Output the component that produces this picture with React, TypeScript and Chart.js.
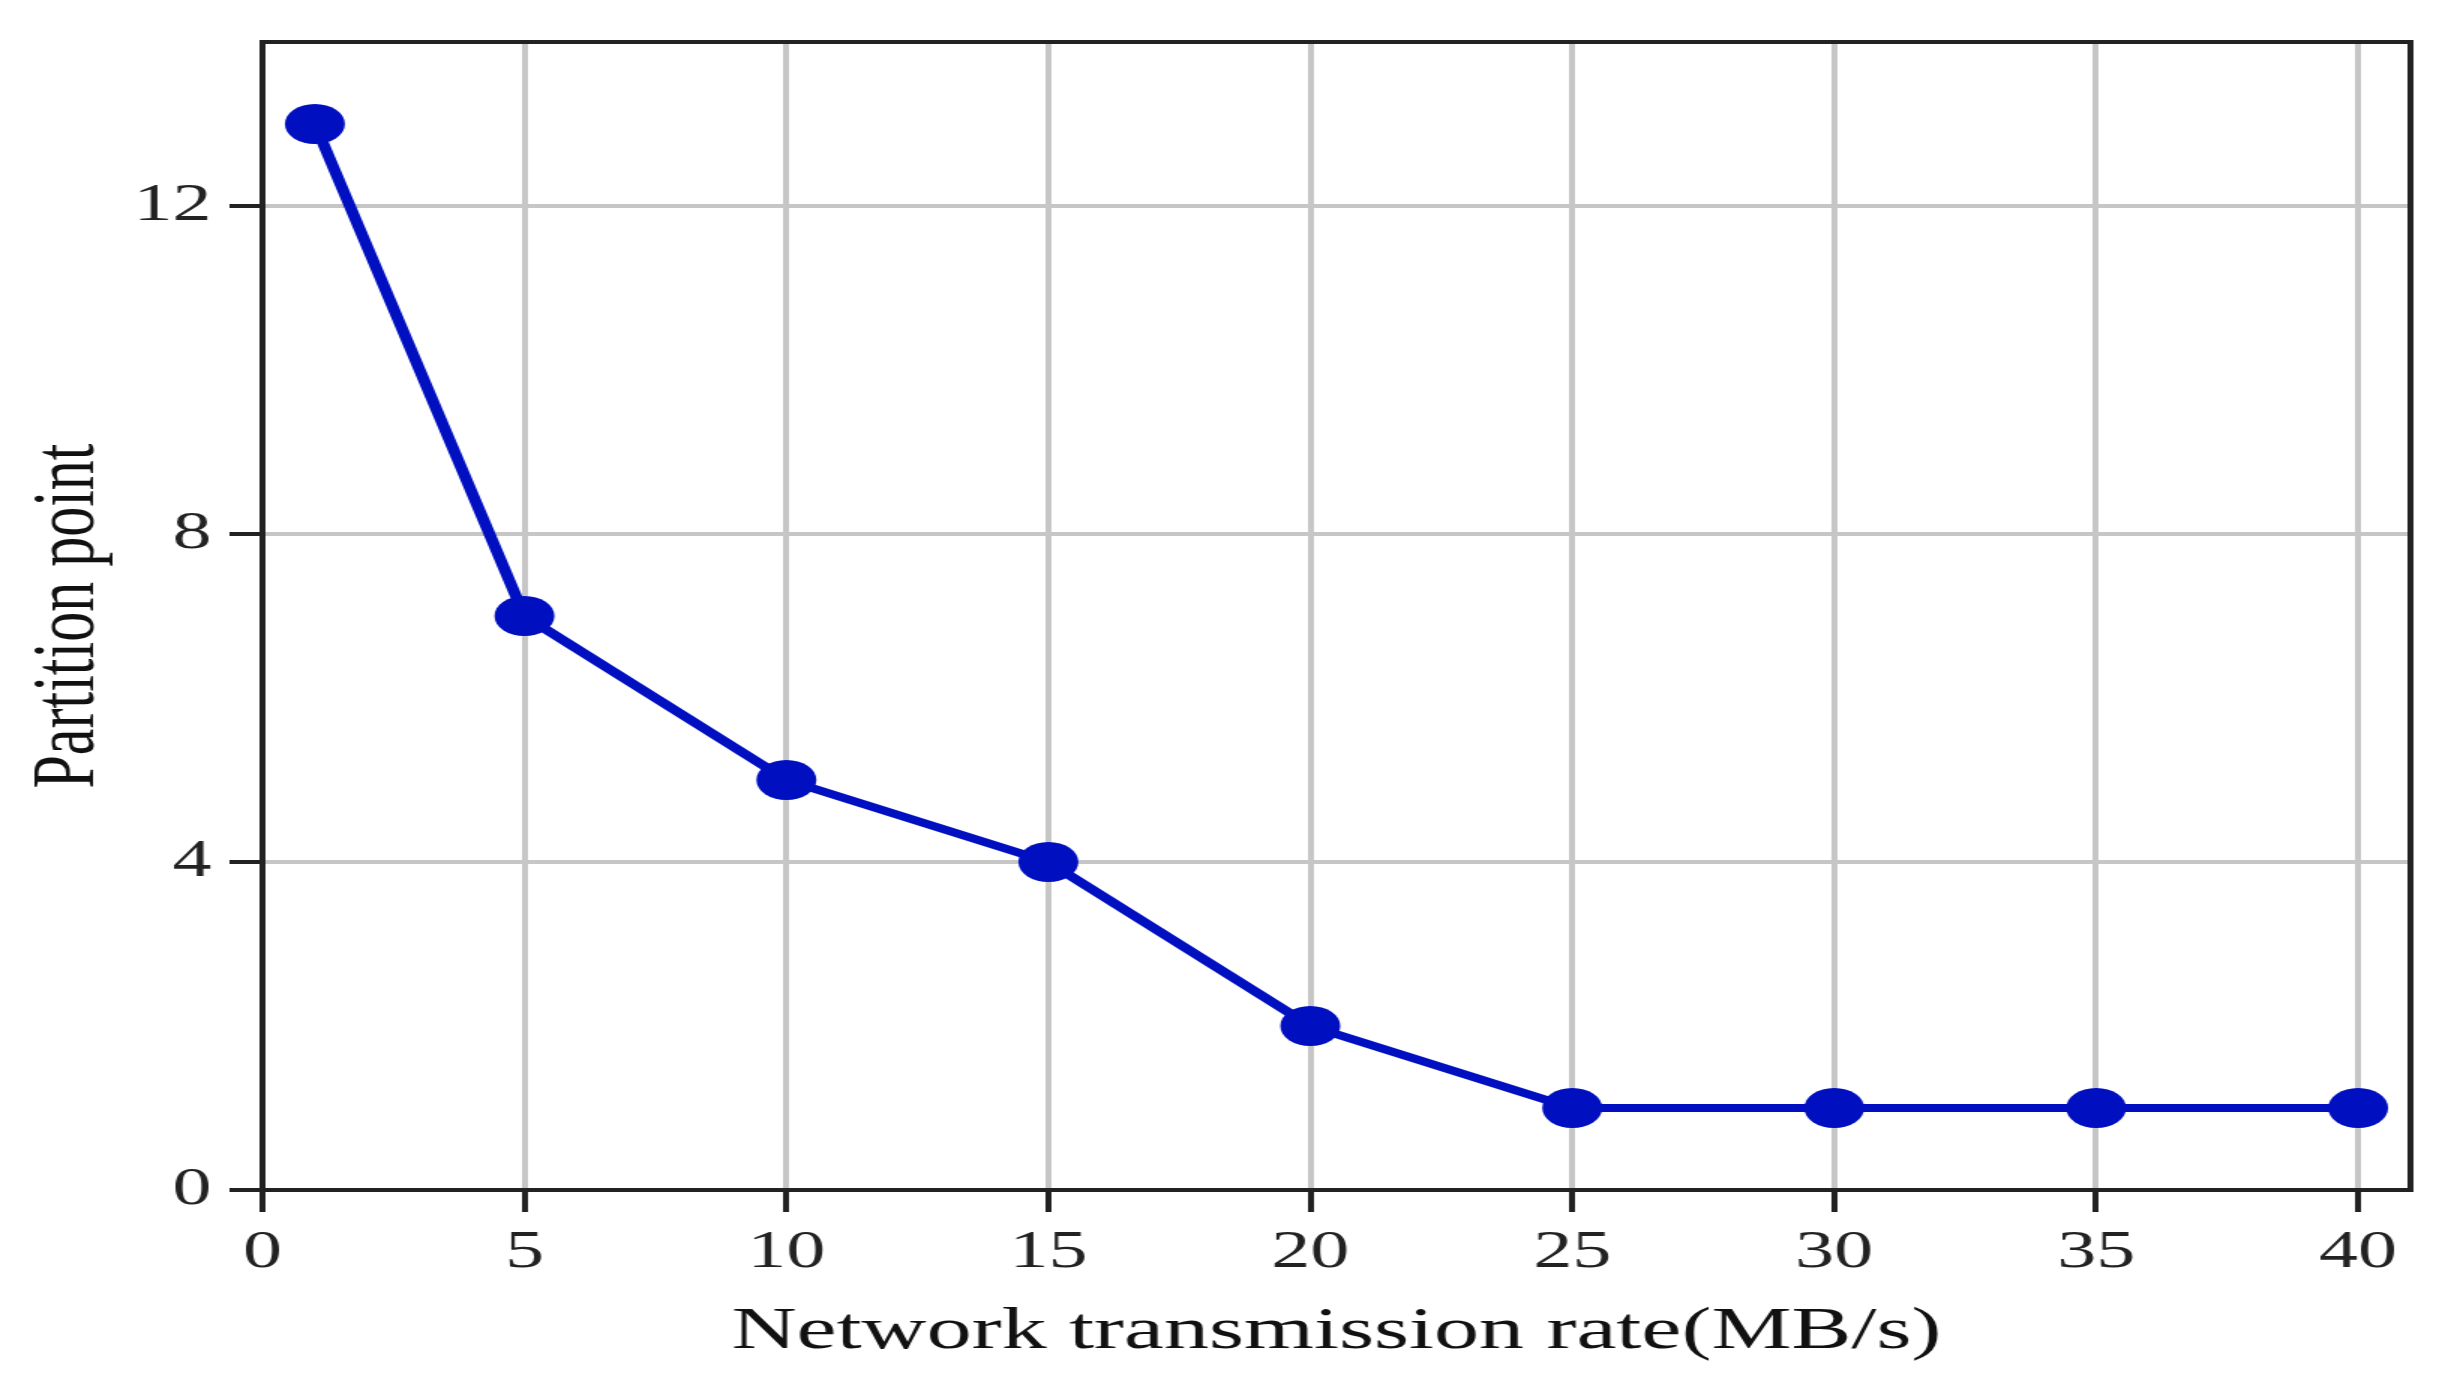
import React, { useEffect, useRef } from "react";
import { Chart, registerables } from "chart.js";

Chart.register(...registerables);

// ---- data ----
const rates: number[] = [1, 5, 10, 15, 20, 25, 30, 35, 40];
const partitionPoints: number[] = [13, 7, 5, 4, 2, 1, 1, 1, 1];
const xTitle = "Network transmission rate(MB/s)";
const yTitle = "Partition point";
const xTickStep = 5;
const yTickStep = 4;

// The reference image is horizontally stretched; render at a narrower
// bitmap width and stretch via CSS.
const STRETCH = 1.5;
const CSS_W = 2448;
const CSS_H = 1384;
const BMP_W = Math.round(CSS_W / STRETCH);

const FONT = "'Liberation Serif', 'Times New Roman', serif";
const LINE_COLOR = "#0010c0";
const GRID_COLOR = "#c6c6c6";
const AXIS_COLOR = "#222222";

const framePlugin = {
  id: "frame",
  beforeDatasetsDraw(chart: any) {
    const { ctx, chartArea } = chart;
    const { left, top, right, bottom } = chartArea;
    ctx.save();
    ctx.strokeStyle = AXIS_COLOR;
    ctx.lineWidth = 4;
    ctx.strokeRect(left, top, right - left, bottom - top);
    ctx.restore();
  },
};

export default function App() {
  const ref = useRef<HTMLCanvasElement | null>(null);

  useEffect(() => {
    document.body.style.margin = "0";
    const canvas = ref.current;
    if (!canvas) return;
    const chart = new Chart(canvas, {
      type: "line",
      data: {
        datasets: [
          {
            label: "Partition point",
            data: rates.map((x, i) => ({ x, y: partitionPoints[i] })),
            borderColor: LINE_COLOR,
            backgroundColor: LINE_COLOR,
            borderWidth: 8,
            pointRadius: 20,
            pointBorderWidth: 0,
            pointBackgroundColor: LINE_COLOR,
            tension: 0,
            fill: false,
          },
        ],
      },
      options: {
        animation: false,
        responsive: false,
        devicePixelRatio: 1,
        layout: { padding: { top: 42, right: 25, bottom: 0, left: 0 } },
        plugins: {
          legend: { display: false },
          tooltip: { enabled: false },
          title: { display: false },
        },
        scales: {
          x: {
            type: "linear",
            min: 0,
            max: 41,
            afterFit: (s: any) => {
              s.height = 194;
              s.paddingLeft = 0;
              s.paddingRight = 0;
            },
            ticks: {
              stepSize: xTickStep,
              includeBounds: false,
              autoSkip: false,
              maxRotation: 0,
              padding: 10,
              color: AXIS_COLOR,
              font: { family: FONT, size: 52 },
            },
            grid: {
              color: GRID_COLOR,
              lineWidth: 4,
              drawTicks: true,
              tickLength: 22,
              tickColor: AXIS_COLOR,
              tickWidth: 4,
            },
            border: { display: true, color: AXIS_COLOR, width: 4 },
            title: {
              display: true,
              text: xTitle,
              color: "#111111",
              font: { family: FONT, size: 60 },
              padding: { top: 0, bottom: 16 },
            },
          },
          y: {
            type: "linear",
            min: 0,
            max: 14,
            afterFit: (s: any) => {
              s.width = 175;
              s.paddingTop = 0;
              s.paddingBottom = 0;
            },
            ticks: {
              stepSize: yTickStep,
              includeBounds: false,
              padding: 12,
              color: AXIS_COLOR,
              font: { family: FONT, size: 52 },
            },
            grid: {
              color: GRID_COLOR,
              lineWidth: 4,
              drawTicks: true,
              tickLength: 22,
              tickColor: AXIS_COLOR,
              tickWidth: 4,
            },
            border: { display: true, color: AXIS_COLOR, width: 4 },
            title: {
              display: true,
              text: yTitle,
              color: "#111111",
              font: { family: FONT, size: 60 },
              padding: { top: 10, bottom: 0 },
            },
          },
        },
      },
      plugins: [framePlugin],
    });
    return () => {
      chart.destroy();
    };
  }, []);

  return (
    <canvas
      ref={ref}
      width={BMP_W}
      height={CSS_H}
      style={{ width: `${CSS_W}px`, height: `${CSS_H}px`, display: "block" }}
    />
  );
}
